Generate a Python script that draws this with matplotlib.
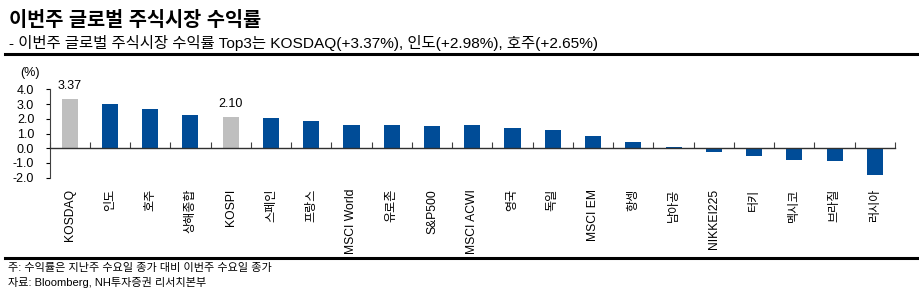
import matplotlib
matplotlib.use("Agg")
import matplotlib.pyplot as plt
from matplotlib.lines import Line2D

plt.rcParams['font.family'] = ['Liberation Sans', 'Noto Sans CJK KR', 'DejaVu Sans']

categories = ['KOSDAQ', '인도', '호주', '상해종합', 'KOSPI', '스페인', '프랑스', 'MSCI World',
              '유로존', 'S&P500', 'MSCI ACWI', '영국', '독일', 'MSCI EM', '항셍', '남아공',
              'NIKKEI225', '터키', '멕시코', '브라질', '러시아']
values = [3.37, 2.98, 2.65, 2.24, 2.10, 2.02, 1.82, 1.61, 1.61, 1.54, 1.56, 1.36, 1.24,
          0.80, 0.39, 0.09, -0.25, -0.50, -0.77, -0.84, -1.79]
highlight = ['KOSDAQ', 'KOSPI']
yticks = [-2.0, -1.0, 0.0, 1.0, 2.0, 3.0, 4.0]

NAVY = '#004C97'
GRAY = '#BFBFBF'

W, H = 919, 297
fig = plt.figure(figsize=(W / 100, H / 100), dpi=100)

def fx(px):
    return px / W

def fy(py):
    return 1 - py / H

ax = fig.add_axes([fx(49.5), fy(177.7), fx(895) - fx(49.5), fy(89.3) - fy(177.7)])

n = len(categories)
x = list(range(n))
colors = [GRAY if c in highlight else NAVY for c in categories]
ax.bar(x, values, width=0.4, color=colors, zorder=2)

ax.set_xlim(-0.5, n - 0.5)
ax.set_ylim(-2.0, 4.0)
ax.set_yticks(yticks)
ax.set_yticklabels([f'{v:.1f}' for v in yticks], fontsize=9)
ax.tick_params(axis='y', direction='out', length=3, width=0.8, pad=8)

for s in ['top', 'right']:
    ax.spines[s].set_visible(False)
ax.spines['left'].set_linewidth(0.8)
ax.spines['left'].set_color('#404040')
ax.spines['bottom'].set_position(('data', 0))
ax.spines['bottom'].set_linewidth(1.0)
ax.spines['bottom'].set_color('#303030')
ax.set_xticks([i - 0.5 for i in range(n + 1)])
ax.set_xticklabels([])
ax.tick_params(axis='x', direction='in', length=4, width=0.8, color='#404040')

for i, c in enumerate(categories):
    ax.annotate(c, xy=(i, 0), xycoords=('data', 'axes fraction'), xytext=(0, -8),
                textcoords='offset points', rotation=90, ha='center', va='top',
                fontsize=8.7)

for c in highlight:
    i = categories.index(c)
    ax.annotate(f'{values[i]:.2f}', xy=(i, values[i]), xytext=(0, 5),
                textcoords='offset points', ha='center', va='bottom', fontsize=9)

fig.text(fx(20), fy(73), '(%)', fontsize=9, ha='left', va='center')

fig.text(fx(9), fy(20), '이번주 글로벌 주식시장 수익률', fontsize=14.2, fontweight='bold',
         ha='left', va='center')
fig.text(fx(9), fy(43), '- 이번주 글로벌 주식시장 수익률 Top3는 KOSDAQ(+3.37%), 인도(+2.98%), 호주(+2.65%)',
         fontsize=11.1, ha='left', va='center')

fig.add_artist(Line2D([fx(5), fx(918)], [fy(54), fy(54)], color='black', linewidth=2.2))
fig.add_artist(Line2D([fx(5), fx(919)], [fy(257.5), fy(257.5)], color='black', linewidth=2.2))

fig.text(fx(8), fy(267.5), '주: 수익률은 지난주 수요일 종가 대비 이번주 수요일 종가', fontsize=8,
         ha='left', va='center')
fig.text(fx(8), fy(282.5), '자료: Bloomberg, NH투자증권 리서치본부', fontsize=8,
         ha='left', va='center')

fig.savefig('out.png', dpi=100)
